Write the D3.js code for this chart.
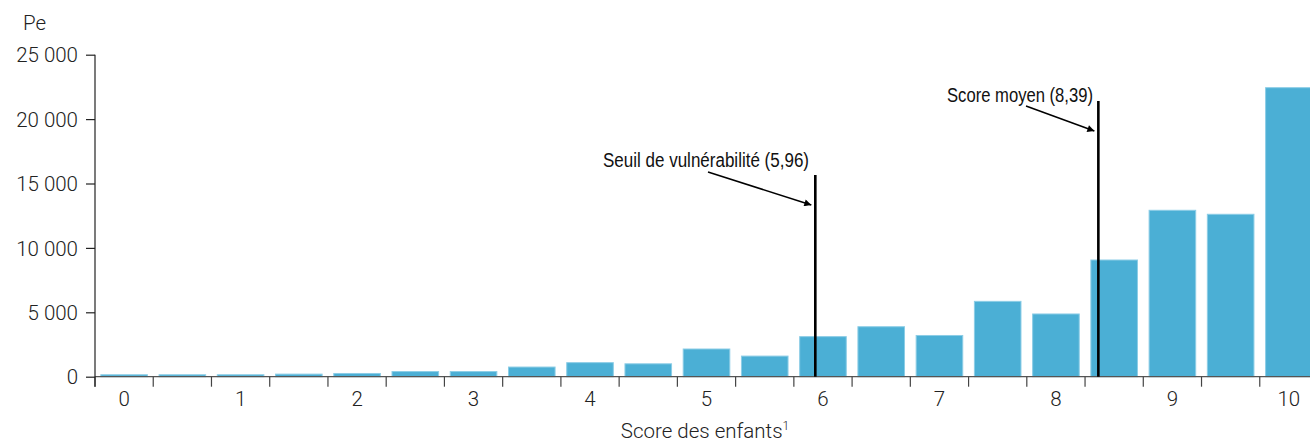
<!DOCTYPE html>
<html><head><meta charset="utf-8">
<script src="https://cdn.jsdelivr.net/npm/d3@7"></script>
<style>
html,body{margin:0;padding:0;background:#fff;}
svg text{font-family:"Roboto","Liberation Sans",sans-serif;font-weight:300;fill:#222;}
.ann{font-family:"Liberation Sans",sans-serif;font-weight:400;fill:#111;}
</style></head>
<body><svg id="c" width="1310" height="443"></svg>
<script>
const scores = ["0","0,5","1","1,5","2","2,5","3","3,5","4","4,5","5","5,5","6","6,5","7","7,5","8","8,5","9","9,5","10"];
const counts = [150,150,150,200,250,400,400,750,1090,1000,2150,1600,3110,3880,3200,5850,4870,9060,12920,12610,22440];
const yTicks = [0,5000,10000,15000,20000,25000];
const xLabels = ["0","1","2","3","4","5","6","7","8","9","10"];
const markers = [{label:"Seuil de vulnérabilité (5,96)", value:5.96},{label:"Score moyen (8,39)", value:8.39}];

const svg = d3.select("#c");
const left = 95, right = 1318, y0 = 376.7, yTop = 54.7;
const x = d3.scaleBand().domain(d3.range(counts.length)).range([left,right]).paddingInner(0.2).paddingOuter(0.1);
const step = x.step();
const y = d3.scaleLinear().domain([0,25000]).range([y0,yTop]);
const xs = d3.scaleLinear().domain([0,10]).range([x(0)+x.bandwidth()/2, x(20)+x.bandwidth()/2]);
const fs = 20.5;

// bars
svg.append("g").selectAll("rect").data(counts).join("rect")
  .attr("x",(d,i)=>x(i)).attr("width",x.bandwidth())
  .attr("y",d=>y(d)).attr("height",d=>y0-y(d))
  .attr("fill","#4BAFD5").attr("stroke","#8CCDE6").attr("stroke-width",1);

// x axis line
svg.append("line").attr("x1",left).attr("x2",1310).attr("y1",y0).attr("y2",y0)
  .attr("stroke","#555").attr("stroke-width",1.2);
// x ticks at band boundaries
svg.append("g").selectAll("line").data(d3.range(counts.length+1)).join("line")
  .attr("x1",i=>left+i*step).attr("x2",i=>left+i*step)
  .attr("y1",y0).attr("y2",y0+10).attr("stroke","#444").attr("stroke-width",1.2);
// x labels
svg.append("g").selectAll("text").data(xLabels).join("text")
  .attr("x",(d,i)=>x(i*2)+x.bandwidth()/2).attr("y",406)
  .attr("text-anchor","middle").attr("font-size",fs).text(d=>d);

// y axis
const yAxis = d3.axisLeft(y).tickValues(yTicks).tickSize(9).tickPadding(8)
  .tickFormat(d=>d3.format(",")(d).replace(/,/g," "));
const gy = svg.append("g").attr("transform",`translate(${left},0)`).call(yAxis);
gy.select(".domain").attr("d",`M0,${yTop}V${y0+10}`).attr("stroke","#222").attr("stroke-width",1.2);
gy.selectAll(".tick line").attr("stroke","#222").attr("stroke-width",1.2);
gy.selectAll(".tick text").attr("font-size",fs).attr("font-family","Roboto, Liberation Sans, sans-serif").attr("font-weight",300).attr("fill","#222").attr("dy","0.35em");

svg.append("text").attr("x",23).attr("y",30).attr("font-size",fs).text("Pe");
svg.append("text").attr("x",705).attr("y",438).attr("text-anchor","middle").attr("font-size",fs)
  .text("Score des enfants").append("tspan").attr("font-size",12).attr("dy",-8).text("1");

// markers
svg.append("defs").append("marker").attr("id","ah").attr("viewBox","0 0 10 10")
  .attr("refX",10).attr("refY",5).attr("markerWidth",10).attr("markerHeight",7)
  .attr("markerUnits","userSpaceOnUse").attr("orient","auto")
  .append("path").attr("d","M0,0L10,5L0,10Z").attr("fill","#000");

const mk = [
  {top:175, tx:603, tw:206, ty:167, ax1:708, ay1:172, ay2:205},
  {top:101, tx:947, tw:146, ty:102, ax1:1026, ay1:106, ay2:131}
];
markers.forEach((m,i)=>{
  const px = xs(m.value) - 3;
  svg.append("line").attr("x1",px).attr("x2",px).attr("y1",mk[i].top).attr("y2",y0)
    .attr("stroke","#000").attr("stroke-width",2.6);
  svg.append("text").attr("class","ann").attr("x",mk[i].tx).attr("y",mk[i].ty)
    .attr("font-size",20).attr("textLength",mk[i].tw).attr("lengthAdjust","spacingAndGlyphs").text(m.label);
  svg.append("line").attr("x1",mk[i].ax1).attr("y1",mk[i].ay1).attr("x2",px-4).attr("y2",mk[i].ay2)
    .attr("stroke","#000").attr("stroke-width",1.5).attr("marker-end","url(#ah)");
});
</script></body></html>
